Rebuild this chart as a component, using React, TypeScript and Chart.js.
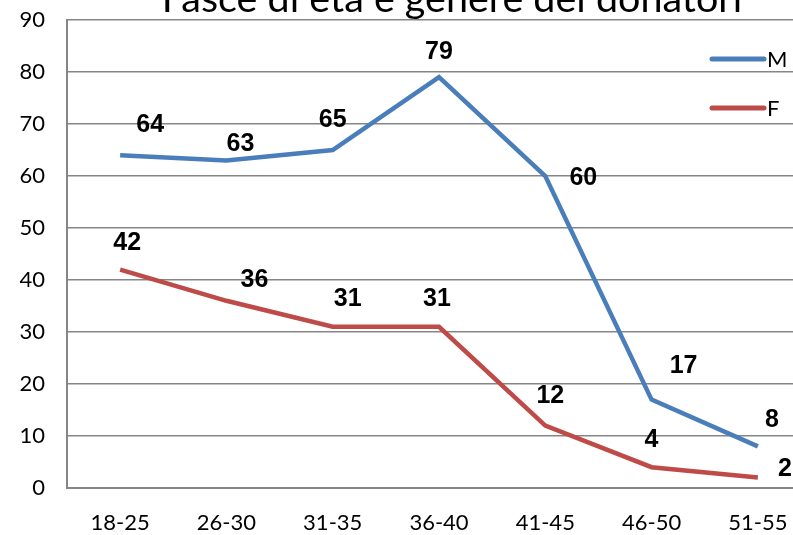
import React, { useEffect, useRef } from "react";
import { Chart, registerables } from "chart.js";

Chart.register(...registerables);

const categories = ["18-25", "26-30", "31-35", "36-40", "41-45", "46-50", "51-55"];
const seriesM = [64, 63, 65, 79, 60, 17, 8];
const seriesF = [42, 36, 31, 31, 12, 4, 2];
const yTicks = [0, 10, 20, 30, 40, 50, 60, 70, 80, 90];
const titleText = "Fasce di età e genere dei donatori";

// label placement offsets (px) relative to each point
const labelOffsetsM = [[30, -30], [14, -16], [0, -30], [0, -25], [38, 2], [32, -33], [14, -26]];
const labelOffsetsF = [[7, -26], [28, -21], [15, -28], [-2, -28], [5, -29], [0, -27], [27, -8]];

const BLUE = "#4A7EBB";
const RED = "#BE4B48";
const GRID = "#868686";
const FONT = "Lato, 'Open Sans', sans-serif";

export default function App() {
  const ref = useRef<HTMLCanvasElement>(null);
  useEffect(() => {
    document.body.style.margin = "0";
    const canvas = ref.current!;
    const overlay = {
      id: "overlay",
      afterDatasetsDraw(chart: any) {
        const ctx = chart.ctx;
        ctx.save();
        ctx.fillStyle = "#000";
        ctx.textAlign = "center";
        ctx.textBaseline = "middle";
        ctx.font = "bold 25px 'Liberation Sans', Arial, sans-serif";
        const offs = [labelOffsetsM, labelOffsetsF];
        chart.data.datasets.forEach((ds: any, di: number) => {
          const meta = chart.getDatasetMeta(di);
          meta.data.forEach((pt: any, i: number) => {
            const [dx, dy] = offs[di][i];
            ctx.fillText(String(ds.data[i]), pt.x + dx, pt.y + dy);
          });
        });
        // title
        ctx.font = `39.5px ${FONT}`;
        ctx.textBaseline = "alphabetic";
        ctx.fillText(titleText, 452, 12);
        // legend
        const items = [
          { label: "M", color: BLUE, y: 59 },
          { label: "F", color: RED, y: 108 },
        ];
        items.forEach((it) => {
          ctx.strokeStyle = it.color;
          ctx.lineWidth = 5;
          ctx.lineCap = "round";
          ctx.beginPath();
          ctx.moveTo(712, it.y);
          ctx.lineTo(764, it.y);
          ctx.stroke();
          ctx.fillStyle = "#000";
          ctx.textAlign = "left";
          ctx.textBaseline = "middle";
          ctx.font = `22px ${FONT}`;
          ctx.fillText(it.label, 767, it.y + 1);
        });
        ctx.restore();
      },
    };
    const chart = new Chart(canvas, {
      type: "line",
      data: {
        labels: categories,
        datasets: [
          { label: "M", data: seriesM, borderColor: BLUE, backgroundColor: BLUE, borderWidth: 4.5, pointRadius: 0, tension: 0 },
          { label: "F", data: seriesF, borderColor: RED, backgroundColor: RED, borderWidth: 4.5, pointRadius: 0, tension: 0 },
        ],
      },
      options: {
        animation: false,
        responsive: false,
        devicePixelRatio: 1,
        layout: { padding: { top: 20, right: 29, left: 0, bottom: 0 } },
        plugins: { legend: { display: false }, title: { display: false }, tooltip: { enabled: false } },
        scales: {
          x: {
            offset: true,
            grid: { display: false, drawTicks: false },
            border: { display: true, color: GRID, width: 2 },
            ticks: { color: "#000", font: { family: FONT, size: 22 }, padding: 22, maxRotation: 0 },
            afterFit(scale: any) { scale.height = 47; },
          },
          y: {
            min: 0,
            max: 90,
            afterBuildTicks(scale: any) { scale.ticks = yTicks.map((v) => ({ value: v })); },
            grid: { color: GRID, lineWidth: 1.5, drawTicks: true, tickLength: 22, tickColor: "rgba(0,0,0,0)" },
            border: { display: true, color: GRID, width: 2 },
            ticks: { color: "#000", font: { family: FONT, size: 22 }, padding: 0 },
            afterFit(scale: any) { scale.width = 67; },
          },
        },
      },
      plugins: [overlay],
    });
    return () => chart.destroy();
  }, []);
  return (
    <div style={{ position: "absolute", left: 0, top: 0, width: 793, height: 535, overflow: "hidden", background: "#fff" }}>
      <canvas ref={ref} width={840} height={535} style={{ width: 840, height: 535, display: "block" }} />
    </div>
  );
}
